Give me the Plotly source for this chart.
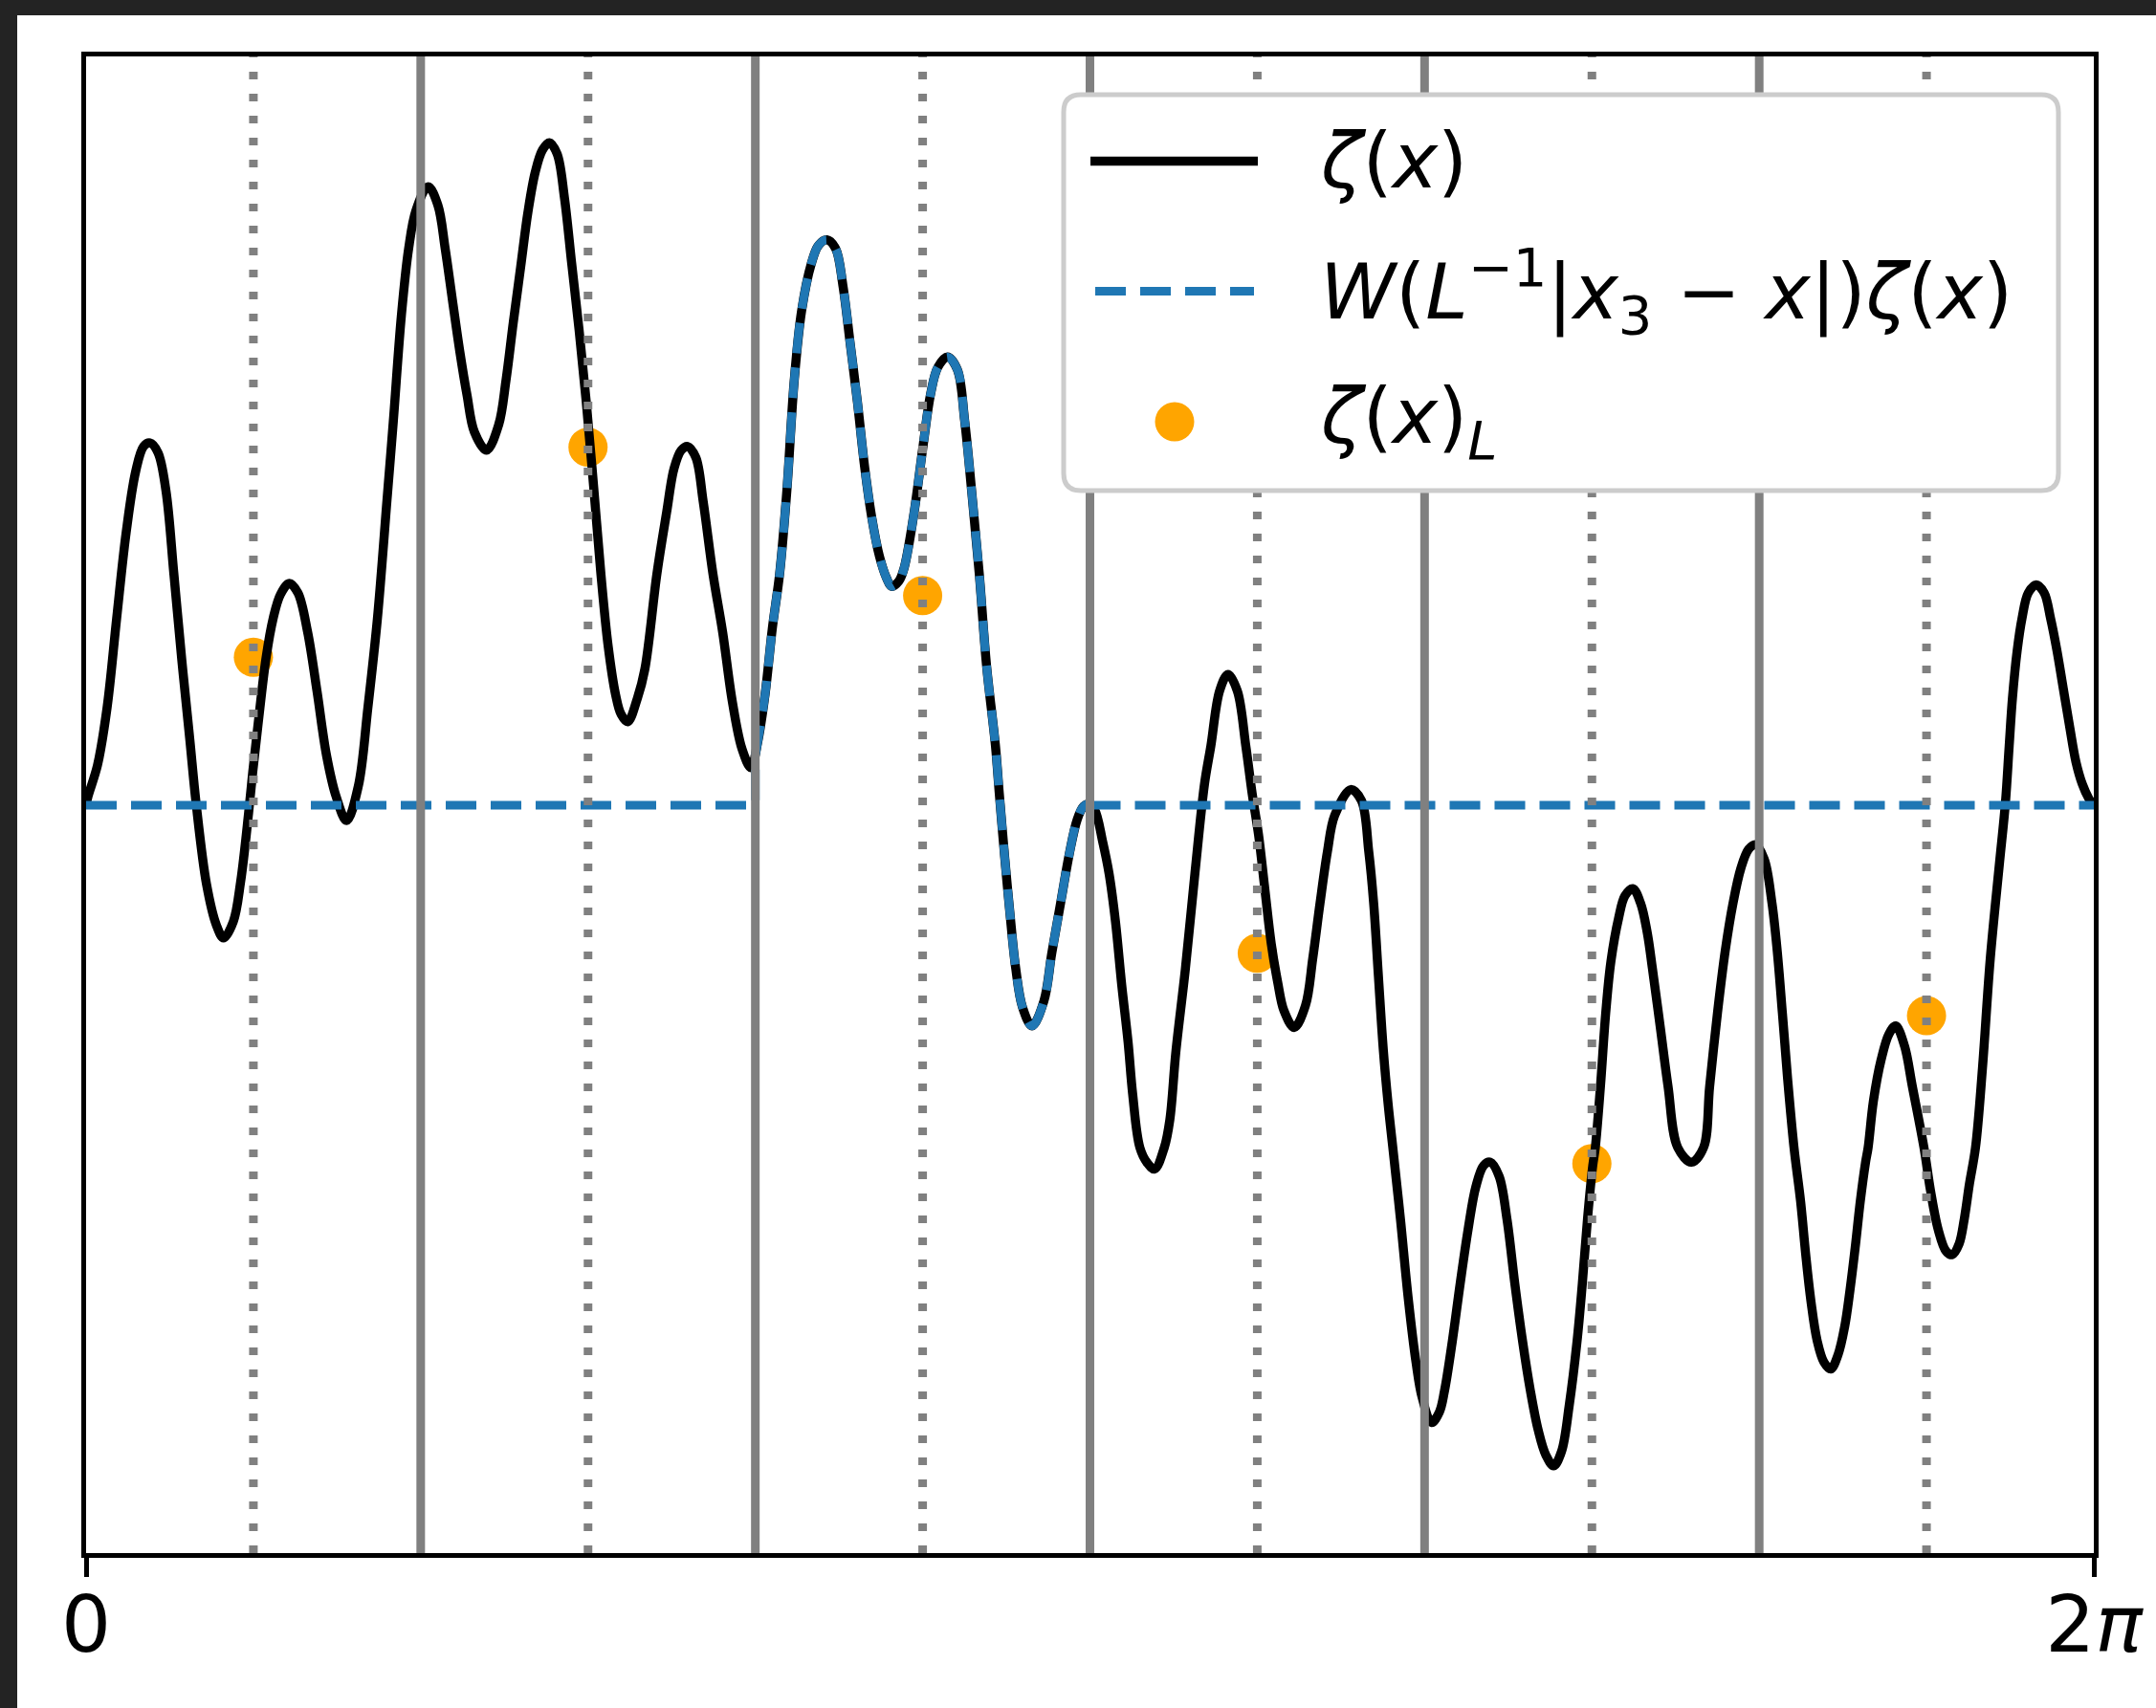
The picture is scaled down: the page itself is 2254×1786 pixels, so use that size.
import numpy as np
import plotly.graph_objects as go

PI = np.pi

# ---------------- data ----------------
# zeta(x) samples (x in radians on [0, 2pi])
zeta_x = [
    0.0000, 0.0060, 0.0358, 0.0657, 0.0956, 0.1254, 0.1553, 0.1801, 0.2001, 0.2249,
    0.2500, 0.2747, 0.2995, 0.3246, 0.3443, 0.3772, 0.4076, 0.4303, 0.4608, 0.4838,
    0.5086, 0.5217, 0.5384, 0.5635, 0.5853, 0.6083, 0.6361, 0.6630, 0.6928, 0.7227,
    0.7525, 0.7824, 0.8153, 0.8520, 0.8819, 0.9117, 0.9416, 0.9616, 0.9867, 1.0094,
    1.0324, 1.0703, 1.1008, 1.1238, 1.1464, 1.1694, 1.1921, 1.2151, 1.2531, 1.2913,
    1.3140, 1.3370, 1.3600, 1.3827, 1.4056, 1.4283, 1.4498, 1.4740, 1.4970, 1.5197,
    1.5427, 1.5654, 1.5884, 1.6111, 1.6341, 1.6571, 1.6741, 1.6950, 1.7255, 1.7485,
    1.7864, 1.8169, 1.8399, 1.8626, 1.8826, 1.9082, 1.9312, 1.9617, 1.9922, 2.0226,
    2.0531, 2.0806, 2.1018, 2.1248, 2.1475, 2.1704, 2.1931, 2.2161, 2.2391, 2.2696,
    2.2923, 2.3183, 2.3457, 2.3684, 2.3914, 2.4141, 2.4371, 2.4598, 2.4828, 2.5055,
    2.5207, 2.5437, 2.5593, 2.5894, 2.6199, 2.6429, 2.6656, 2.6960, 2.7265, 2.7495,
    2.7722, 2.7952, 2.8179, 2.8459, 2.8579, 2.8749, 2.8907, 2.9095, 2.9305, 2.9603,
    2.9974, 3.0221, 3.0520, 3.0768, 3.1018, 3.1216, 3.1371, 3.1565, 3.1813, 3.2013,
    3.2213, 3.2410, 3.2610, 3.2751, 3.2978, 3.3208, 3.3438, 3.3742, 3.3916, 3.4104,
    3.4402, 3.4701, 3.5000, 3.5200, 3.5477, 3.5737, 3.6027, 3.6293, 3.6493, 3.6693,
    3.6890, 3.7090, 3.7290, 3.7487, 3.7807, 3.8159, 3.8389, 3.8616, 3.8846, 3.9073,
    3.9578, 3.9912, 4.0142, 4.0294, 4.0444, 4.0596, 4.0748, 4.0894, 4.1133, 4.1375,
    4.1620, 4.1814, 4.2107, 4.2352, 4.2513, 4.2758, 4.3003, 4.3248, 4.3490, 4.3734,
    4.3946, 4.4221, 4.4466, 4.4711, 4.4953, 4.5198, 4.5442, 4.5684, 4.5929, 4.6174,
    4.6416, 4.6661, 4.6825, 4.6986, 4.7151, 4.7231, 4.7392, 4.7557, 4.7718, 4.7963,
    4.8157, 4.8402, 4.8647, 4.8856, 4.9020, 4.9265, 4.9507, 4.9811, 5.0238, 5.0618,
    5.0809, 5.1054, 5.1296, 5.1541, 5.1786, 5.2028, 5.2240, 5.2518, 5.2760, 5.2924,
    5.3085, 5.3249, 5.3449, 5.3655, 5.3816, 5.3980, 5.4174, 5.4386, 5.4598, 5.4825,
    5.5037, 5.5199, 5.5363, 5.5524, 5.5689, 5.5769, 5.5934, 5.6176, 5.6421, 5.6632,
    5.6907, 5.7152, 5.7516, 5.7720, 5.7964, 5.8209, 5.8403, 5.8615, 5.8777, 5.8941,
    5.9129, 5.9347, 5.9592, 5.9875, 6.0064, 6.0183, 6.0285, 6.0434, 6.0583, 6.0780,
    6.1031, 6.1279, 6.1479, 6.1676, 6.1876, 6.2076, 6.2273, 6.2473, 6.2673, 6.2832,
]
zeta_y = [
    0.000, 0.023, 0.105, 0.255, 0.488, 0.713, 0.873, 0.938, 0.947, 0.922,
    0.822, 0.605, 0.380, 0.172, 0.005, -0.208, -0.313, -0.347, -0.304, -0.199,
    -0.020, 0.088, 0.213, 0.387, 0.488, 0.551, 0.580, 0.555, 0.455, 0.298,
    0.130, 0.023, -0.040, 0.050, 0.255, 0.488, 0.797, 1.005, 1.280, 1.455,
    1.555, 1.617, 1.569, 1.455, 1.321, 1.187, 1.072, 0.976, 0.928, 0.995,
    1.110, 1.263, 1.407, 1.550, 1.655, 1.713, 1.732, 1.703, 1.588, 1.416,
    1.244, 1.053, 0.833, 0.605, 0.414, 0.289, 0.238, 0.218, 0.280, 0.355,
    0.605, 0.766, 0.880, 0.928, 0.938, 0.909, 0.794, 0.605, 0.452, 0.270,
    0.146, 0.098, 0.165, 0.289, 0.462, 0.605, 0.823, 1.110, 1.292, 1.416,
    1.464, 1.478, 1.455, 1.359, 1.206, 1.053, 0.880, 0.747, 0.651, 0.593,
    0.572, 0.586, 0.618, 0.755, 0.943, 1.075, 1.145, 1.172, 1.139, 1.005,
    0.814, 0.605, 0.366, 0.155, 0.030, -0.137, -0.278, -0.428, -0.528, -0.577,
    -0.512, -0.387, -0.245, -0.128, -0.037, -0.003, 0.003, -0.012, -0.095, -0.178,
    -0.303, -0.470, -0.620, -0.754, -0.895, -0.935, -0.951, -0.895, -0.822, -0.645,
    -0.428, -0.178, 0.055, 0.155, 0.300, 0.342, 0.299, 0.155, 0.030, -0.078,
    -0.220, -0.362, -0.462, -0.537, -0.581, -0.524, -0.400, -0.256, -0.122, -0.027,
    0.041, 0.012, -0.122, -0.256, -0.448, -0.639, -0.782, -0.895, -1.082, -1.288,
    -1.456, -1.549, -1.614, -1.586, -1.530, -1.400, -1.250, -1.110, -0.998, -0.942,
    -0.933, -0.970, -1.082, -1.250, -1.400, -1.530, -1.633, -1.699, -1.727, -1.689,
    -1.568, -1.400, -1.250, -1.082, -0.942, -0.895, -0.735, -0.543, -0.409, -0.294,
    -0.237, -0.218, -0.256, -0.333, -0.428, -0.581, -0.735, -0.895, -0.933, -0.895,
    -0.735, -0.543, -0.381, -0.256, -0.165, -0.115, -0.103, -0.141, -0.256, -0.381,
    -0.543, -0.715, -0.895, -1.035, -1.175, -1.297, -1.400, -1.456, -1.474, -1.437,
    -1.362, -1.269, -1.157, -1.035, -0.933, -0.895, -0.773, -0.665, -0.598, -0.577,
    -0.629, -0.735, -0.895, -1.007, -1.110, -1.166, -1.175, -1.147, -1.082, -0.989,
    -0.895, -0.687, -0.400, -0.155, 0.005, 0.155, 0.280, 0.405, 0.488, 0.555,
    0.576, 0.555, 0.488, 0.405, 0.305, 0.205, 0.113, 0.055, 0.018, 0.000,
]

# window W(L^-1 |x3 - x|): cell 3 = [2pi*2/6, 2pi*3/6]
window_lo = 2 * PI * 2 / 6
window_hi = 2 * PI * 3 / 6
zeta_at_window_lo = 0.13          # value of zeta read at the left window edge

# cell averages zeta(x)_L at the cell centres
cell_centre_x = [PI / 6, PI / 2, 5 * PI / 6, 7 * PI / 6, 3 * PI / 2, 11 * PI / 6]
cell_mean_y = [0.387, 0.936, 0.548, -0.387, -0.937, -0.550]

# cell boundaries (solid grey) and cell centres (dotted grey)
cell_edges = [PI / 3, 2 * PI / 3, PI, 4 * PI / 3, 5 * PI / 3]

x_tickvals = [0, 2 * PI]
x_ticktext = ["0", "2<i>π</i>"]

legend_labels = [
    "<i>ζ</i>(<i>x</i>)",
    "<i>W</i>(<i>L</i><sup>−1</sup>|<i>x</i><sub>3</sub> − <i>x</i>|)<i>ζ</i>(<i>x</i>)",
    "<i>ζ</i>(<i>x</i>)<sub><i>L</i></sub>",
]

# ---------------- styling / layout constants ----------------
PAGE_W, PAGE_H = 2254, 1786
PL, PR, PT, PB = 90, 2189, 59, 1624           # plot area in page pixels
Y_RANGE = [-1.955, 1.9575]
FONT = "DejaVu Sans"
BLACK = "#000000"
BLUE = "#1f77b4"
ORANGE = "#ffa500"
GREY = "#808080"
LW_BLACK = 9.5
LW_BLUE = 9
LW_GREY = 9


def px_x(px):
    return (px - PL) / (PR - PL)


def px_y(py):
    return (PB - py) / (PB - PT)


fig = go.Figure()

# cell averages (drawn first: below the lines, as in the reference)
fig.add_trace(go.Scatter(
    x=cell_centre_x, y=cell_mean_y, mode="markers",
    marker=dict(color=ORANGE, size=41, line=dict(width=0)),
    showlegend=False, hoverinfo="skip", cliponaxis=False,
))

# zeta(x)
fig.add_trace(go.Scatter(
    x=zeta_x, y=zeta_y, mode="lines",
    line=dict(color=BLACK, width=LW_BLACK, shape="spline", smoothing=1.0),
    showlegend=False, hoverinfo="skip",
))

# windowed zeta: zero outside cell 3
win_x = [window_lo] + [x for x in zeta_x if window_lo < x < window_hi] + [window_hi]
win_y = [zeta_at_window_lo] + [y for x, y in zip(zeta_x, zeta_y) if window_lo < x < window_hi] + [0.0]

dash_blue = "32px,15px"
fig.add_trace(go.Scatter(
    x=[0.0, window_lo, window_lo], y=[0.0, 0.0, zeta_at_window_lo], mode="lines",
    line=dict(color=BLUE, width=LW_BLUE, dash=dash_blue),
    showlegend=False, hoverinfo="skip",
))
fig.add_trace(go.Scatter(
    x=win_x, y=win_y, mode="lines",
    line=dict(color=BLUE, width=LW_BLUE, dash=dash_blue, shape="spline", smoothing=1.0),
    showlegend=False, hoverinfo="skip",
))
fig.add_trace(go.Scatter(
    x=[window_hi, 2 * PI], y=[0.0, 0.0], mode="lines",
    line=dict(color=BLUE, width=LW_BLUE, dash=dash_blue),
    showlegend=False, hoverinfo="skip",
))

shapes = []
# grey vertical lines (on top of the curves)
for xv in cell_edges:
    shapes.append(dict(type="line", xref="x", yref="paper", x0=xv, x1=xv,
                       y0=0.0, y1=1.0, layer="above",
                       line=dict(color=GREY, width=LW_GREY)))
for xv in cell_centre_x:
    shapes.append(dict(type="line", xref="x", yref="paper", x0=xv, x1=xv,
                       y0=0.0, y1=1.0, layer="above",
                       line=dict(color=GREY, width=LW_GREY, dash="8px,15px")))

# legend frame (rounded)
bx0, bx1 = px_x(1112), px_x(2152)
by_top, by_bot = px_y(99), px_y(513)
rx, ry = 18 / (PR - PL), 18 / (PB - PT)
frame_path = (
    f"M {bx0 + rx},{by_top} L {bx1 - rx},{by_top} Q {bx1},{by_top} {bx1},{by_top - ry} "
    f"L {bx1},{by_bot + ry} Q {bx1},{by_bot} {bx1 - rx},{by_bot} "
    f"L {bx0 + rx},{by_bot} Q {bx0},{by_bot} {bx0},{by_bot + ry} "
    f"L {bx0},{by_top - ry} Q {bx0},{by_top} {bx0 + rx},{by_top} Z"
)
shapes.append(dict(type="path", xref="paper", yref="paper", path=frame_path,
                   fillcolor="white", line=dict(color="#cccccc", width=5), layer="above"))

row_y = [168.5, 304.5, 441]
shapes.append(dict(type="line", xref="paper", yref="paper",
                   x0=px_x(1140), x1=px_x(1315), y0=px_y(row_y[0]), y1=px_y(row_y[0]),
                   line=dict(color=BLACK, width=LW_BLACK), layer="above"))
shapes.append(dict(type="line", xref="paper", yref="paper",
                   x0=px_x(1145), x1=px_x(1311), y0=px_y(row_y[1]), y1=px_y(row_y[1]),
                   line=dict(color=BLUE, width=LW_BLUE, dash=dash_blue), layer="above"))
shapes.append(dict(type="circle", xref="paper", yref="paper",
                   x0=px_x(1207.5), x1=px_x(1248.5), y0=px_y(row_y[2] + 20.5), y1=px_y(row_y[2] - 20.5),
                   fillcolor=ORANGE, line=dict(width=0), layer="above"))

# dark page border (top and left)
shapes.append(dict(type="rect", xref="paper", yref="paper",
                   x0=px_x(0), x1=px_x(PAGE_W), y0=px_y(16), y1=px_y(0),
                   fillcolor="#232323", line=dict(width=0), layer="above"))
shapes.append(dict(type="rect", xref="paper", yref="paper",
                   x0=px_x(0), x1=px_x(18), y0=px_y(PAGE_H), y1=px_y(0),
                   fillcolor="#232323", line=dict(width=0), layer="above"))

annotations = []
for label, ry_ in zip(legend_labels, row_y):
    annotations.append(dict(xref="paper", yref="paper", x=px_x(1378), y=px_y(ry_),
                            text=label, showarrow=False, xanchor="left", yanchor="middle",
                            font=dict(family=FONT, size=80, color=BLACK)))

fig.update_layout(
    width=PAGE_W, height=PAGE_H,
    margin=dict(l=PL, r=PAGE_W - PR, t=PT, b=PAGE_H - PB, pad=0),
    paper_bgcolor="white", plot_bgcolor="white",
    showlegend=False,
    shapes=shapes, annotations=annotations,
    font=dict(family=FONT, color=BLACK),
)
fig.update_xaxes(
    range=[0, 2 * PI], tickvals=x_tickvals, ticktext=x_ticktext,
    ticks="outside", ticklen=20, tickwidth=4.5, tickcolor=BLACK,
    tickfont=dict(family=FONT, size=82, color=BLACK), ticklabelstandoff=-20,
    showline=True, linecolor=BLACK, linewidth=4.5, mirror=True,
    showgrid=False, zeroline=False,
)
fig.update_yaxes(
    range=Y_RANGE, showticklabels=False, ticks="",
    showline=True, linecolor=BLACK, linewidth=4.5, mirror=True,
    showgrid=False, zeroline=False,
)

fig.write_html("out.html")
